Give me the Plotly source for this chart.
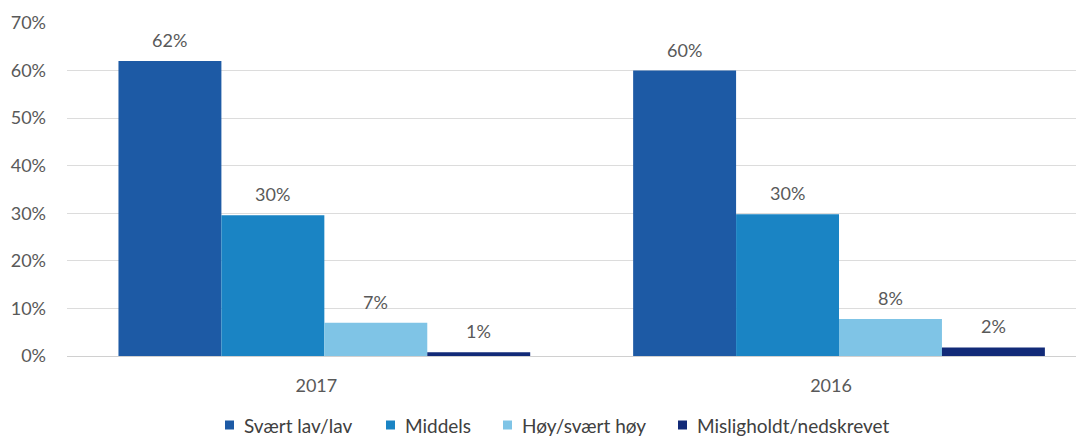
import plotly.graph_objects as go

years = ["2017", "2016"]
series_names = ["Svært lav/lav", "Middels", "Høy/svært høy", "Misligholdt/nedskrevet"]
svaert_lav = [62.0, 60.0]
middels = [29.6, 29.8]
hoy = [7.0, 7.8]
mislighold = [0.8, 1.8]
colors = ["#1d5aa5", "#1a84c4", "#7fc4e6", "#122a78"]
y_ticks = [0, 10, 20, 30, 40, 50, 60, 70]

values = [svaert_lav, middels, hoy, mislighold]
BARGAP = 0.2
FS = 18

# layout geometry (figure pixels)
W, H = 1076, 429
ML, MR, MT, MB = 59, 0, 15, 81
PW, PH = W - ML - MR, H - MT - MB

fig = go.Figure()
for name, vals, col in zip(series_names, values, colors):
    fig.add_trace(go.Bar(
        x=years, y=vals, name=name, showlegend=False,
        marker=dict(color=col, line=dict(width=0)),
    ))

# value labels above bars, placed via the category axis
n = len(values)
bw = (1 - BARGAP) / n
annotations = []
for i, vals in enumerate(values):
    for j, v in enumerate(vals):
        xpos = j - (1 - BARGAP) / 2 + bw * (i + 0.5)
        annotations.append(dict(
            x=xpos, y=v, xref="x", yref="y", text=f"{round(v):.0f}%",
            showarrow=False, yanchor="bottom", yshift=8,
            font=dict(size=FS, color="#595959"),
        ))

# legend drawn as small squares + text (figure pixel positions)
leg_sq_left = [217, 378, 495, 670]
leg_cy = 417
sq = 9
shapes = []
for name, col, lx in zip(series_names, colors, leg_sq_left):
    x0 = (lx - ML) / PW
    x1 = (lx + sq - ML) / PW
    y0 = (H - MB - (leg_cy + sq / 2)) / PH
    y1 = (H - MB - (leg_cy - sq / 2)) / PH
    shapes.append(dict(type="rect", xref="paper", yref="paper", x0=x0, x1=x1, y0=y0, y1=y1,
                       fillcolor=col, line=dict(width=0)))
    annotations.append(dict(
        x=(lx + 17 - ML) / PW, y=(H - MB - leg_cy) / PH, xref="paper", yref="paper",
        text=name, showarrow=False, xanchor="left", yanchor="middle",
        font=dict(size=19, color="#404040"),
    ))

fig.update_layout(
    width=W, height=H,
    barmode="group", bargap=BARGAP, bargroupgap=0,
    plot_bgcolor="white", paper_bgcolor="white",
    font=dict(family="Lato, Liberation Sans, sans-serif", color="#595959", size=FS),
    margin=dict(l=ML, r=MR, t=MT, b=MB, autoexpand=False),
    showlegend=False,
    annotations=annotations,
    shapes=shapes,
    xaxis=dict(showgrid=False, showline=False, ticks="", automargin=False,
               range=[-0.5, 1.476],
               tickfont=dict(size=FS, color="#595959"), ticklabelstandoff=17,
               ticklabelshift=-8),
    yaxis=dict(range=[0, 70], tickvals=y_ticks, ticktext=[f"{t}%" for t in y_ticks],
               showgrid=True, gridcolor="#dcdcdc", gridwidth=1, zeroline=True,
               zerolinecolor="#d0d0d0", zerolinewidth=1, showline=False, automargin=False,
               tickfont=dict(size=FS, color="#595959"), ticklabelstandoff=20),
)

fig.write_html("out.html")
